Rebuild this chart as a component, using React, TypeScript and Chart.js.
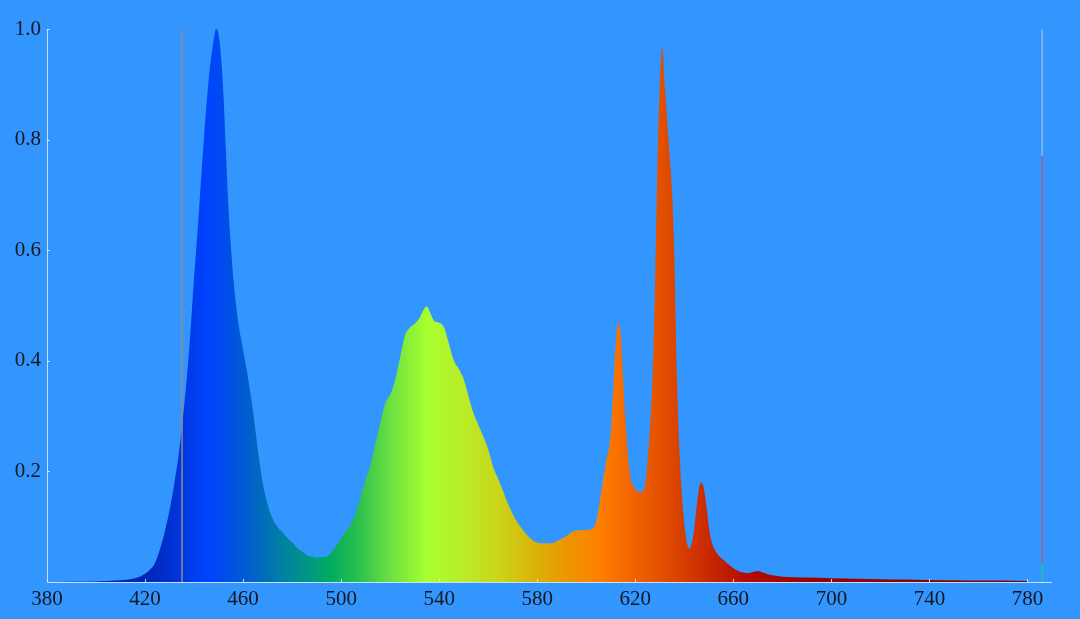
import React, { useEffect, useRef } from "react";
import { Chart, registerables } from "chart.js";

Chart.register(...registerables);

// ---- data ----
const wavelengths = [
  380, 390, 400, 405, 410, 415, 418, 420, 422, 424, 426, 428, 430, 432, 434, 435, 436, 438, 440, 442, 444, 446, 448, 449,
  450, 451, 452, 453, 454, 455, 456, 458, 460, 462, 464, 466, 468, 470, 472, 474, 476, 478, 480, 482, 484, 486, 488, 490,
  492, 494, 496, 498, 500, 502, 504, 506, 508, 510, 512, 514, 516, 518, 520, 522, 524, 526, 528, 530, 532, 534, 535, 536,
  538, 540, 542, 544, 546, 548, 550, 552, 554, 556, 558, 560, 562, 564, 566, 568, 570, 572, 574, 576, 578, 580, 582, 584,
  586, 588, 590, 592, 594, 596, 598, 600, 602, 604, 606, 608, 610, 611, 612, 613, 614, 615, 616, 617, 618, 620, 622, 624,
  625, 626, 627, 628, 629, 630, 631, 632, 633, 634, 635, 636, 637, 638, 639, 640, 641, 642, 643, 644, 645, 646, 647, 648,
  649, 650, 651, 652, 654, 656, 658, 660, 662, 664, 666, 668, 670, 672, 674, 676, 680, 685, 690, 700, 710, 720, 730, 740,
  750, 760, 770, 780,
];

const intensity = [
  0.0, 0.0005, 0.001, 0.002, 0.003, 0.006, 0.01, 0.015, 0.022, 0.034, 0.058, 0.09, 0.13, 0.18, 0.24, 0.28, 0.32, 0.42, 0.55,
  0.67, 0.8, 0.91, 0.98, 1.0,
  0.99, 0.95, 0.88, 0.78, 0.68, 0.61, 0.55, 0.47, 0.42, 0.37, 0.31, 0.24, 0.18, 0.14, 0.115, 0.1, 0.09, 0.08, 0.072, 0.062,
  0.055, 0.049, 0.046, 0.044,
  0.045, 0.046, 0.053, 0.065, 0.078, 0.092, 0.105, 0.125, 0.155, 0.185, 0.213, 0.25, 0.288, 0.323, 0.338, 0.365, 0.405,
  0.445, 0.46, 0.467, 0.478, 0.495, 0.498, 0.49,
  0.472, 0.469, 0.46, 0.43, 0.4, 0.385, 0.367, 0.335, 0.305, 0.284, 0.263, 0.24, 0.208, 0.187, 0.165, 0.142, 0.123, 0.107,
  0.095, 0.084, 0.076, 0.071, 0.07, 0.07,
  0.07, 0.074, 0.078, 0.083, 0.09, 0.093, 0.094, 0.094, 0.096, 0.108, 0.16, 0.215, 0.27, 0.35, 0.43, 0.468, 0.45, 0.37,
  0.29, 0.23, 0.19, 0.168, 0.162, 0.176,
  0.22, 0.28, 0.37, 0.53, 0.75, 0.9, 0.968, 0.9, 0.835, 0.77, 0.705, 0.58, 0.37, 0.24, 0.16, 0.105, 0.072, 0.06, 0.07,
  0.095, 0.135, 0.17, 0.18, 0.168,
  0.138, 0.1, 0.075, 0.062, 0.048, 0.04, 0.032, 0.025, 0.02, 0.017, 0.016, 0.018, 0.02, 0.017, 0.014, 0.012, 0.0095,
  0.0088, 0.008, 0.007, 0.006, 0.005, 0.0045, 0.0035,
  0.003, 0.0025, 0.0028, 0.002,
];

const xTickValues = [380, 420, 460, 500, 540, 580, 620, 660, 700, 740, 780];
const yTickValues = [0.2, 0.4, 0.6, 0.8, 1.0];

const gradientStopWavelengths = [380, 420, 430, 440, 446, 455, 465, 475, 485, 495, 505, 520, 535, 550, 565, 580, 595, 605, 620, 635, 650, 665, 690, 780];
const gradientStopColors = [
  "#0020a8", "#0026b8", "#0030d0", "#003ef0", "#0044ff", "#0050e4", "#0066c4", "#007ea4", "#00928a", "#00aa62",
  "#22bc50", "#6ae040", "#a8ff30", "#baec28", "#cad418", "#dcb008", "#f09000", "#ff8000", "#f06200", "#dc4800",
  "#c82800", "#b40c00", "#a00000", "#820000",
];

const markerWavelength = 435.1;
const rightBarWavelength = 786;
const rightBarBreaks = [0, 0.033, 0.77, 1.0];
const rightBarColors = ["#22c488", "#b05a82", "#8fb6e6"];

const xMin = 380;
const xMax = 790;

const axisPlugin = {
  id: "axisLines",
  afterDraw(chart: any) {
    const { ctx, chartArea, scales } = chart;
    const x = scales.x;
    const y = scales.y;
    ctx.save();
    ctx.strokeStyle = "rgba(226,236,250,0.85)";
    ctx.lineWidth = 1;
    ctx.beginPath();
    ctx.moveTo(chartArea.left + 0.5, chartArea.top);
    ctx.lineTo(chartArea.left + 0.5, chartArea.bottom + 0.5);
    ctx.lineTo(chartArea.right, chartArea.bottom + 0.5);
    ctx.stroke();
    ctx.beginPath();
    xTickValues.forEach((v) => {
      const px = Math.round(x.getPixelForValue(v)) + 0.5;
      ctx.moveTo(px, chartArea.bottom);
      ctx.lineTo(px, chartArea.bottom - 3);
    });
    yTickValues.forEach((v) => {
      const py = Math.round(y.getPixelForValue(v)) + 0.5;
      ctx.moveTo(chartArea.left, py);
      ctx.lineTo(chartArea.left + 3, py);
    });
    ctx.stroke();
    ctx.restore();
  },
};

export default function App() {
  const canvasRef = useRef<HTMLCanvasElement | null>(null);

  useEffect(() => {
    if (!canvasRef.current) return;
    const spectrum = wavelengths.map((w, i) => ({ x: w, y: intensity[i] }));

    const fillGradient = (context: any) => {
      const chart = context.chart;
      const { ctx, chartArea, scales } = chart;
      if (!chartArea || !scales.x) return "#0044ff";
      const x0 = scales.x.getPixelForValue(gradientStopWavelengths[0]);
      const x1 = scales.x.getPixelForValue(gradientStopWavelengths[gradientStopWavelengths.length - 1]);
      const g = ctx.createLinearGradient(x0, 0, x1, 0);
      const span = gradientStopWavelengths[gradientStopWavelengths.length - 1] - gradientStopWavelengths[0];
      gradientStopWavelengths.forEach((w, i) => {
        g.addColorStop((w - gradientStopWavelengths[0]) / span, gradientStopColors[i]);
      });
      return g;
    };

    const segmentDatasets = rightBarColors.map((c, i) => ({
      type: "line" as const,
      data: [
        { x: rightBarWavelength, y: rightBarBreaks[i] },
        { x: rightBarWavelength, y: rightBarBreaks[i + 1] },
      ],
      borderColor: c,
      borderWidth: 1.5,
      pointRadius: 0,
      fill: false,
      order: 0,
    }));

    const tickFont = { family: "'Liberation Serif', serif", size: 21 };

    const chart = new Chart(canvasRef.current, {
      type: "line",
      data: {
        datasets: [
          {
            data: [
              { x: markerWavelength, y: 0 },
              { x: markerWavelength, y: 1 },
            ],
            borderColor: "#938a86",
            borderWidth: 1.5,
            pointRadius: 0,
            fill: false,
            order: 0,
          },
          ...segmentDatasets,
          {
            data: spectrum,
            borderWidth: 0,
            borderColor: "rgba(0,0,0,0)",
            backgroundColor: fillGradient,
            pointRadius: 0,
            fill: "origin",
            cubicInterpolationMode: "monotone",
            order: 1,
          },
        ],
      },
      options: {
        animation: false,
        responsive: true,
        maintainAspectRatio: false,
        layout: { padding: { top: 29, right: 28, left: 0, bottom: 0 } },
        plugins: {
          legend: { display: false },
          tooltip: { enabled: false },
        },
        scales: {
          x: {
            type: "linear",
            min: xMin,
            max: xMax,
            grid: { display: false, drawTicks: false },
            border: { display: false },
            afterBuildTicks: (s: any) => {
              s.ticks = xTickValues.map((value) => ({ value }));
            },
            afterFit: (s: any) => {
              s.height = 37;
            },
            ticks: {
              font: tickFont,
              color: "#141822",
              padding: 5,
              maxRotation: 0,
              autoSkip: false,
              callback: (v: any) => String(v),
            },
          },
          y: {
            type: "linear",
            min: 0,
            max: 1,
            grid: { display: false, drawTicks: false },
            border: { display: false },
            afterBuildTicks: (s: any) => {
              s.ticks = yTickValues.map((value) => ({ value }));
            },
            afterFit: (s: any) => {
              s.width = 47;
            },
            ticks: {
              font: tickFont,
              color: "#141822",
              padding: 6,
              autoSkip: false,
              callback: (v: any) => Number(v).toFixed(1),
            },
          },
        },
      },
      plugins: [axisPlugin],
    });

    return () => chart.destroy();
  }, []);

  return (
    <div
      style={{
        position: "absolute",
        left: 0,
        top: 0,
        width: 1080,
        height: 619,
        background: "#3396ff",
      }}
    >
      <canvas ref={canvasRef} />
    </div>
  );
}
